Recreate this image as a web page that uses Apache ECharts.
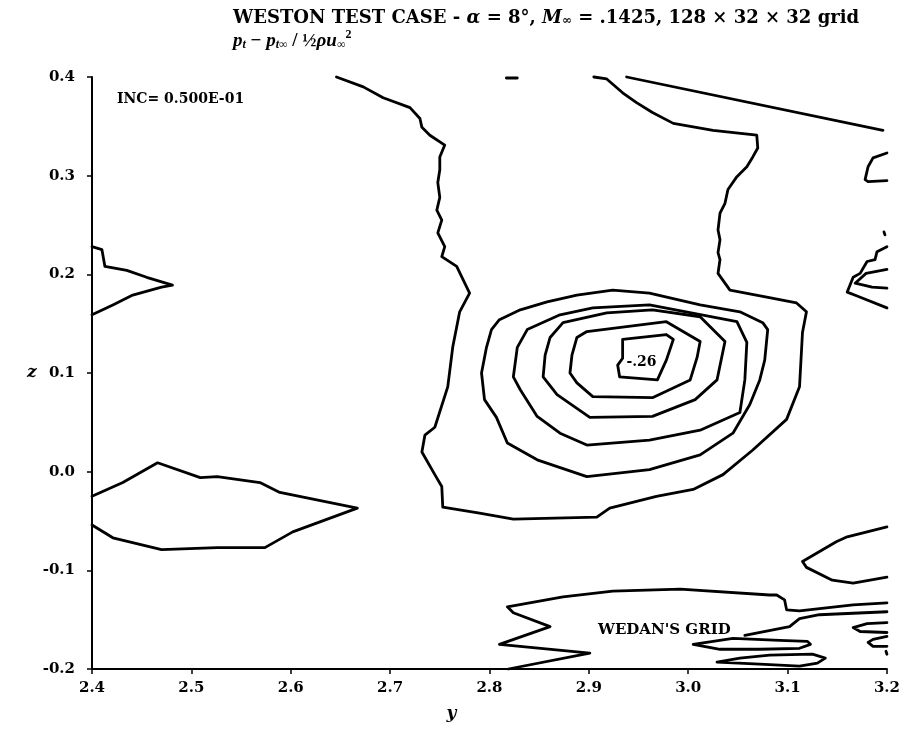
<!DOCTYPE html>
<html>
<head>
<meta charset="utf-8">
<script src="https://cdn.jsdelivr.net/npm/echarts@6/dist/echarts.min.js"></script>
<style>
  html, body { margin: 0; padding: 0; background: #fff; }
  #chart { width: 903px; height: 744px; }
</style>
</head>
<body>
<div id="chart"></div>
<script>
// Axis ticks
var xTicks = [2.4, 2.5, 2.6, 2.7, 2.8, 2.9, 3.0, 3.1, 3.2];
var zTicks = [-0.2, -0.1, 0.0, 0.1, 0.2, 0.3, 0.4];

// Contour lines, [y, z] pairs
var contourOuter = [[2.646,0.400],[2.673,0.390],[2.693,0.379],[2.720,0.369],[2.730,0.358],[2.732,0.349],[2.740,0.341],[2.755,0.331],[2.750,0.319],[2.750,0.306],[2.748,0.293],[2.750,0.278],[2.747,0.265],[2.752,0.255],[2.748,0.242],[2.755,0.228],[2.752,0.218],[2.767,0.208],[2.780,0.181],[2.770,0.162],[2.763,0.126],[2.758,0.086],[2.745,0.045],[2.735,0.037],[2.732,0.020],[2.745,-0.003],[2.752,-0.015],[2.753,-0.036],[2.790,-0.042],[2.824,-0.048],[2.908,-0.046],[2.921,-0.037],[2.968,-0.025],[3.005,-0.018],[3.035,-0.003],[3.065,0.022],[3.099,0.053],[3.112,0.086],[3.115,0.141],[3.119,0.162],[3.109,0.171],[3.079,0.177],[3.042,0.184],[3.030,0.201],[3.032,0.215],[3.030,0.222],[3.032,0.235],[3.030,0.245],[3.032,0.262],[3.037,0.272],[3.040,0.286],[3.049,0.299],[3.059,0.309],[3.065,0.319],[3.070,0.328],[3.069,0.341],[3.025,0.346],[2.985,0.353],[2.964,0.364],[2.948,0.374],[2.934,0.384],[2.918,0.398],[2.905,0.400]];
var ring1 = [[2.797,0.126],[2.802,0.144],[2.810,0.154],[2.831,0.164],[2.858,0.172],[2.888,0.179],[2.924,0.184],[2.961,0.181],[3.012,0.169],[3.052,0.162],[3.075,0.151],[3.080,0.144],[3.077,0.113],[3.072,0.093],[3.062,0.068],[3.045,0.039],[3.012,0.017],[2.961,0.002],[2.898,-0.005],[2.848,0.012],[2.818,0.029],[2.807,0.055],[2.795,0.073],[2.792,0.100],[2.797,0.126]];
var ring2 = [[2.828,0.126],[2.838,0.144],[2.871,0.159],[2.904,0.166],[2.961,0.169],[3.049,0.152],[3.059,0.131],[3.057,0.093],[3.052,0.060],[3.012,0.042],[2.961,0.032],[2.898,0.027],[2.871,0.039],[2.848,0.056],[2.831,0.083],[2.824,0.096],[2.828,0.126]];
var ring3 = [[2.861,0.136],[2.874,0.151],[2.918,0.161],[2.964,0.164],[3.012,0.157],[3.037,0.132],[3.029,0.093],[3.007,0.073],[2.964,0.056],[2.901,0.055],[2.868,0.078],[2.854,0.096],[2.856,0.118],[2.861,0.136]];
var ring4 = [[2.888,0.136],[2.898,0.142],[2.978,0.152],[3.012,0.132],[3.009,0.116],[3.002,0.093],[2.964,0.075],[2.904,0.076],[2.888,0.090],[2.881,0.100],[2.883,0.118],[2.888,0.136]];
var ringCore = [[2.934,0.134],[2.978,0.139],[2.985,0.134],[2.978,0.113],[2.969,0.093],[2.931,0.096],[2.929,0.108],[2.934,0.115],[2.934,0.134]];
var topDash = [[2.817,0.399],[2.828,0.399]];
var topRightLine = [[2.938,0.400],[3.196,0.346]];
var rightHook = [[3.200,0.323],[3.186,0.318],[3.181,0.309],[3.178,0.296],[3.181,0.294],[3.200,0.295]];
var rightDotA = [[3.197,0.243],[3.198,0.240]];
var rightZigA = [[3.200,0.228],[3.190,0.223],[3.188,0.215],[3.180,0.213],[3.173,0.201],[3.166,0.197],[3.160,0.182],[3.170,0.178],[3.200,0.166]];
var rightZigB = [[3.200,0.205],[3.179,0.201],[3.168,0.191],[3.185,0.187],[3.200,0.186]];
var leftSpike = [[2.400,0.228],[2.410,0.225],[2.413,0.208],[2.435,0.204],[2.455,0.197],[2.481,0.189],[2.470,0.187],[2.441,0.179],[2.421,0.169],[2.400,0.159]];
var leftLens = [[2.400,-0.025],[2.431,-0.011],[2.466,0.009],[2.509,-0.006],[2.526,-0.005],[2.569,-0.011],[2.589,-0.021],[2.667,-0.037],[2.602,-0.061],[2.574,-0.077],[2.526,-0.077],[2.470,-0.079],[2.421,-0.067],[2.400,-0.054]];
var rightBracket = [[3.200,-0.056],[3.160,-0.066],[3.149,-0.071],[3.115,-0.091],[3.119,-0.097],[3.145,-0.110],[3.166,-0.113],[3.200,-0.107]];
var wedanUpper = [[3.200,-0.133],[3.166,-0.135],[3.112,-0.141],[3.099,-0.140],[3.097,-0.130],[3.089,-0.125],[3.082,-0.125],[2.992,-0.119],[2.924,-0.121],[2.874,-0.127],[2.818,-0.137],[2.824,-0.143],[2.861,-0.157],[2.810,-0.175],[2.901,-0.184],[2.819,-0.200]];
var wedanLower = [[3.057,-0.166],[3.102,-0.157],[3.112,-0.149],[3.132,-0.145],[3.200,-0.142]];
var lensA = [[3.005,-0.175],[3.045,-0.169],[3.092,-0.171],[3.120,-0.172],[3.123,-0.175],[3.112,-0.179],[3.072,-0.180],[3.032,-0.180],[3.005,-0.175]];
var lensB = [[3.029,-0.193],[3.052,-0.189],[3.082,-0.186],[3.125,-0.185],[3.138,-0.189],[3.130,-0.194],[3.112,-0.197],[3.072,-0.195],[3.029,-0.193]];
var edgeLensA = [[3.200,-0.153],[3.180,-0.154],[3.166,-0.158],[3.173,-0.162],[3.200,-0.163]];
var edgeLensB = [[3.200,-0.167],[3.186,-0.170],[3.181,-0.173],[3.186,-0.177],[3.200,-0.177]];
var rightDotB = [[3.199,-0.182],[3.200,-0.185]];

// Annotations
var annoText = ['-.26', "WEDAN'S GRID"];
var annoPos = [[2.953, 0.111], [2.976, -0.161]];
var annoSize = [14, 15];

var contours = [contourOuter, ring1, ring2, ring3, ring4, ringCore, topDash, topRightLine,
  rightHook, rightDotA, rightZigA, rightZigB, leftSpike, leftLens, rightBracket,
  wedanUpper, wedanLower, lensA, lensB, edgeLensA, edgeLensB, rightDotB];

var FONT = '"DejaVu Serif", "Liberation Serif", serif';
var FONT2 = '"Liberation Serif", "DejaVu Serif", serif';

var series = contours.map(function (c) {
  return {
    type: 'line', data: c, showSymbol: false, silent: true, clip: false,
    lineStyle: { color: '#000', width: 2.8, join: 'round', cap: 'round' }
  };
});
series.push({
  type: 'scatter', silent: true, symbolSize: 1,
  itemStyle: { opacity: 0 },
  data: annoPos.map(function (p, i) {
    return { value: p, name: annoText[i],
      label: { fontSize: annoSize[i] } };
  }),
  label: {
    show: true, position: 'inside', formatter: function (p) { return p.name; },
    color: '#000', opacity: 1, fontFamily: FONT, fontWeight: 'bold'
  }
});

var chart = echarts.init(document.getElementById('chart'), null, { renderer: 'canvas' });
chart.setOption({
  animation: false,
  backgroundColor: '#fff',
  grid: { left: 92, right: 16, top: 77, bottom: 75 },
  xAxis: {
    type: 'value', min: xTicks[0], max: xTicks[xTicks.length - 1], interval: 0.1,
    name: 'y', nameLocation: 'middle', nameGap: 36,
    nameTextStyle: { fontFamily: FONT, fontStyle: 'italic', fontWeight: 'bold', fontSize: 17, color: '#000', padding: [0, 76, 0, 0] },
    axisLine: { onZero: false, lineStyle: { color: '#000', width: 2 } },
    axisTick: { show: true, length: 5, lineStyle: { color: '#000', width: 1.5 } },
    axisLabel: { color: '#000', fontFamily: FONT, fontWeight: 'bold', fontSize: 15, margin: 12,
      formatter: function (v) { return v.toFixed(1); } },
    splitLine: { show: false }
  },
  yAxis: {
    type: 'value', min: zTicks[0], max: zTicks[zTicks.length - 1], interval: 0.1,
    name: 'z', nameLocation: 'middle', nameGap: 55, nameRotate: 0,
    nameTextStyle: { fontFamily: FONT, fontStyle: 'italic', fontWeight: 'bold', fontSize: 17, color: '#000' },
    axisLine: { show: true, onZero: false, lineStyle: { color: '#000', width: 2 } },
    axisTick: { show: true, length: 5, lineStyle: { color: '#000', width: 1.5 } },
    axisLabel: { color: '#000', fontFamily: FONT, fontWeight: 'bold', fontSize: 15, margin: 17,
      formatter: function (v) { return v.toFixed(1); } },
    splitLine: { show: false }
  },
  graphic: [
    {
      type: 'text', left: 233, top: 9,
      style: {
        text: '{b|WESTON TEST CASE - }{i|α}{b| = 8°, }{i|M}{s|∞}{b| = .1425, 128 × 32 × 32 grid}',
        rich: {
          b: { fontFamily: FONT, fontWeight: 'bold', fontSize: 18, lineHeight: 22, verticalAlign: 'bottom', fill: '#000' },
          i: { fontFamily: FONT, fontWeight: 'bold', fontStyle: 'italic', fontSize: 18, lineHeight: 22, verticalAlign: 'bottom', fill: '#000' },
          s: { fontFamily: FONT, fontWeight: 'bold', fontSize: 12, lineHeight: 22, verticalAlign: 'bottom', fill: '#000' }
        }
      }
    },
    {
      type: 'text', left: 233, top: 29,
      style: {
        text: '{i|p}{s|t}{b| − }{i|p}{s|t∞}{b| / ½}{i|ρu}{s|∞}{p|2}',
        rich: {
          b: { fontFamily: FONT2, fontWeight: 'bold', fontSize: 19, lineHeight: 22, verticalAlign: 'bottom', fill: '#000' },
          i: { fontFamily: FONT2, fontWeight: 'bold', fontStyle: 'italic', fontSize: 19, lineHeight: 22, verticalAlign: 'bottom', fill: '#000' },
          s: { fontFamily: FONT2, fontWeight: 'bold', fontStyle: 'italic', fontSize: 12, lineHeight: 22, verticalAlign: 'bottom', fill: '#000' },
          p: { fontFamily: FONT2, fontWeight: 'bold', fontSize: 12, lineHeight: 22, verticalAlign: 'top', fill: '#000' }
        }
      }
    },
    {
      type: 'text', left: 117, top: 92,
      style: { text: 'INC= 0.500E-01', fontFamily: FONT, fontWeight: 'bold', fontSize: 14, fill: '#000' }
    }
  ],
  series: series
});
</script>
</body>
</html>
